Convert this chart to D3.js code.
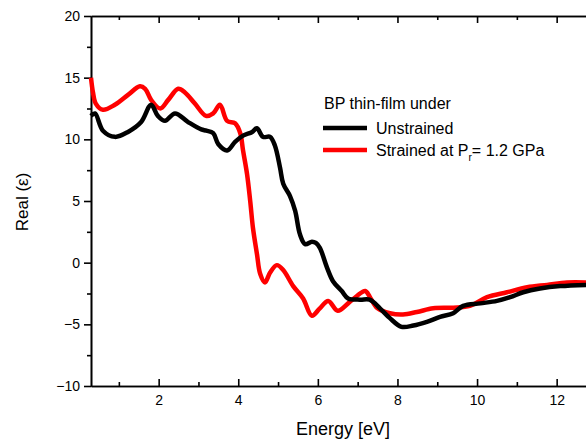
<!DOCTYPE html>
<html>
<head>
<meta charset="utf-8">
<script src="https://cdn.jsdelivr.net/npm/d3@7/dist/d3.min.js"></script>
<style>
  body { margin: 0; background: #fff; }
  svg { display: block; font-family: "Liberation Sans", Arial, sans-serif; }
  .axis path, .axis line { stroke: #000; stroke-width: 1.6; }
  .axis text { font-size: 14px; fill: #000; }
</style>
</head>
<body>
<div id="chart"></div>
<script>
// energy [eV] / Real(eps)
var unstrainedX = [0.3, 0.4, 0.6, 0.9, 1.23, 1.56, 1.81, 1.98, 2.16, 2.41, 2.74, 3.07, 3.2, 3.37, 3.5, 3.72, 3.92, 4.12, 4.35, 4.47, 4.62, 4.8, 4.92, 5.05, 5.13, 5.3, 5.43, 5.55, 5.68, 5.85, 5.95, 6.05, 6.23, 6.38, 6.6, 6.76, 7.06, 7.3, 7.56, 7.81, 8.1, 8.4, 8.74, 9.07, 9.4, 9.65, 10.08, 10.5, 10.83, 11.16, 11.58, 12.09, 12.75];
var unstrainedY = [11.9, 12.1, 10.7, 10.2, 10.6, 11.4, 12.8, 11.9, 11.5, 12.1, 11.4, 10.8, 10.7, 10.5, 9.6, 9.1, 9.8, 10.3, 10.6, 10.9, 10.2, 10.2, 9.5, 7.7, 6.4, 5.4, 4.2, 2.3, 1.5, 1.7, 1.6, 1.2, -0.4, -1.5, -2.3, -2.9, -3.0, -3.0, -3.7, -4.5, -5.2, -5.1, -4.8, -4.4, -4.1, -3.5, -3.3, -3.1, -2.8, -2.4, -2.1, -1.9, -1.8];

var strainedX = [0.3, 0.35, 0.42, 0.6, 0.9, 1.23, 1.53, 1.66, 1.81, 2.04, 2.24, 2.49, 2.66, 2.91, 3.19, 3.37, 3.54, 3.72, 3.92, 4.05, 4.12, 4.22, 4.3, 4.37, 4.47, 4.55, 4.67, 4.8, 4.97, 5.13, 5.38, 5.63, 5.85, 6.05, 6.26, 6.5, 6.76, 6.98, 7.19, 7.31, 7.5, 7.81, 8.14, 8.49, 8.9, 9.4, 9.82, 10.25, 10.75, 11.26, 11.76, 12.26, 12.75];
var strainedY = [15.0, 13.8, 12.9, 12.4, 12.8, 13.6, 14.3, 14.1, 13.2, 12.5, 13.2, 14.1, 13.8, 12.9, 11.9, 12.1, 12.8, 11.5, 11.3, 10.5, 9.1, 7.2, 5.0, 2.8, 0.7, -0.9, -1.6, -0.8, -0.2, -0.6, -1.9, -2.9, -4.3, -3.7, -3.1, -3.9, -3.3, -2.7, -2.3, -2.8, -3.7, -4.1, -4.2, -4.0, -3.7, -3.65, -3.5, -2.8, -2.4, -2.0, -1.8, -1.6, -1.6];

var yMajor = [-10, -5, 0, 5, 10, 15, 20];
var yMinor = [-7.5, -2.5, 2.5, 7.5, 12.5, 17.5];
var xMajor = [2, 4, 6, 8, 10, 12];
var xMinor = [1, 3, 5, 7, 9, 11, 13];

var width = 586, height = 446;
var plotLeft = 91, plotTop = 16, plotBottom = 386;

var svg = d3.select("#chart").append("svg")
    .attr("width", width)
    .attr("height", height);

var x = d3.scaleLinear().domain([0.3, 13]).range([plotLeft, plotLeft + 12.7 * 39.8]);
var y = d3.scaleLinear().domain([-10, 20]).range([plotBottom, plotTop]);

// axes
svg.append("g").attr("class", "axis")
    .attr("transform", "translate(0," + plotBottom + ")")
    .call(d3.axisBottom(x).tickValues(xMajor).tickSizeInner(-7).tickSizeOuter(0).tickPadding(9));
svg.append("g").attr("class", "axis")
    .attr("transform", "translate(0," + plotBottom + ")")
    .call(d3.axisBottom(x).tickValues(xMinor).tickFormat("").tickSizeInner(-4).tickSizeOuter(0));
svg.append("g").attr("class", "axis")
    .attr("transform", "translate(0," + plotTop + ")")
    .call(d3.axisTop(x).tickValues(xMajor).tickFormat("").tickSizeInner(-7).tickSizeOuter(0));
svg.append("g").attr("class", "axis")
    .attr("transform", "translate(0," + plotTop + ")")
    .call(d3.axisTop(x).tickValues(xMinor).tickFormat("").tickSizeInner(-4).tickSizeOuter(0));
svg.append("g").attr("class", "axis")
    .attr("transform", "translate(" + plotLeft + ",0)")
    .call(d3.axisLeft(y).tickValues(yMajor).tickSizeInner(7).tickSizeOuter(0).tickPadding(4));
svg.append("g").attr("class", "axis")
    .attr("transform", "translate(" + plotLeft + ",0)")
    .call(d3.axisLeft(y).tickValues(yMinor).tickFormat("").tickSizeInner(4).tickSizeOuter(0));

// curves
var line = d3.line()
    .x(function (d) { return x(d[0]); })
    .y(function (d) { return y(d[1]); })
    .curve(d3.curveCatmullRom.alpha(0.5));

var series = [
    { name: "Unstrained", color: "#000", data: d3.zip(unstrainedX, unstrainedY) },
    { name: "Strained", color: "#ff0000", data: d3.zip(strainedX, strainedY) }
];

svg.selectAll(".curve")
    .data(series.slice().reverse())
    .enter().append("path")
    .attr("class", "curve")
    .attr("fill", "none")
    .attr("stroke", function (d) { return d.color; })
    .attr("stroke-width", 4.5)
    .attr("stroke-linejoin", "round")
    .attr("d", function (d) { return line(d.data); });

// axis titles
svg.append("text")
    .attr("x", 343).attr("y", 435)
    .attr("text-anchor", "middle")
    .style("font-size", "18px")
    .text("Energy [eV]");

svg.append("text")
    .attr("transform", "translate(28,202) rotate(-90)")
    .attr("text-anchor", "middle")
    .style("font-size", "17px")
    .text("Real (ε)");

// legend
var lg = svg.append("g").style("font-size", "16px");
lg.append("text").attr("x", 324).attr("y", 109).text("BP thin-film under");
lg.append("line").attr("x1", 323).attr("x2", 367).attr("y1", 128).attr("y2", 128)
    .attr("stroke", "#000").attr("stroke-width", 4.5);
lg.append("text").attr("x", 376).attr("y", 134).text("Unstrained");
lg.append("line").attr("x1", 323).attr("x2", 367).attr("y1", 150).attr("y2", 150)
    .attr("stroke", "#ff0000").attr("stroke-width", 4.5);
var t = lg.append("text").attr("x", 376).attr("y", 156);
t.append("tspan").text("Strained at P");
t.append("tspan").attr("dy", 5).style("font-size", "10px").text("r");
t.append("tspan").attr("dy", -5).text("= 1.2 GPa");
</script>
</body>
</html>
